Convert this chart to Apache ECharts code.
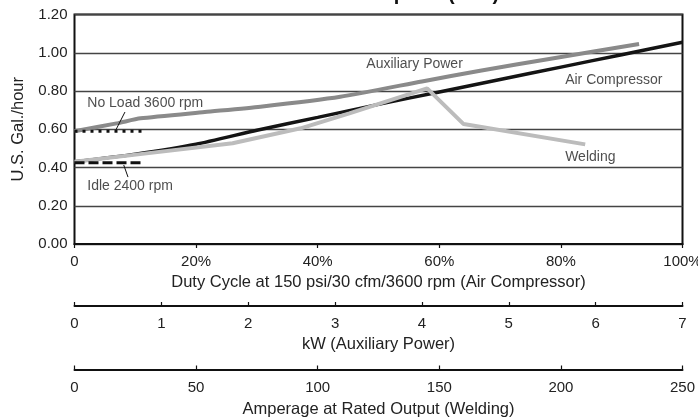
<!DOCTYPE html>
<html>
<head>
<meta charset="utf-8">
<script src="https://cdn.jsdelivr.net/npm/echarts@6/dist/echarts.min.js"></script>
<style>
html,body{margin:0;padding:0;background:#fff;}
#chart{width:698px;height:419px;}
</style>
</head>
<body>
<div id="chart"></div>
<script>
// ---- data ----
const titleText = 'Fuel Consumption (Gas)';
const yTicks = [0, 0.2, 0.4, 0.6, 0.8, 1.0, 1.2];
// Air Compressor: [duty cycle %, gal/hr]
const airCompressor = [[0,0.43],[10,0.47],[20,0.522],[30,0.595],[40,0.662],[50,0.73],[60,0.795],[70,0.86],[80,0.925],[90,0.99],[100,1.055]];
// Auxiliary Power: [kW, gal/hr]
const auxiliaryPower = [[0,0.59],[0.5,0.632],[0.76,0.657],[1.5,0.69],[2.14,0.718],[3.06,0.77],[4,0.85],[4.67,0.906],[5.5,0.97],[6.5,1.046]];
// Welding: [amps, gal/hr]
const welding = [[0,0.43],[27,0.47],[65,0.527],[93,0.605],[113,0.683],[145,0.814],[160,0.627],[210,0.521]];
// No load / idle reference lines: [duty %, gal/hr]
const noLoad3600 = [[0,0.59],[11.7,0.59]];
const idle2400 = [[0,0.425],[11.5,0.425]];
// leader lines
const noLoadLeader = [[8.3,0.69],[6.7,0.59]];
const idleLeader = [[8.1,0.413],[8.8,0.35]];
// text labels: [duty %, gal/hr, text]
const annotations = [
  [2.1,0.737,'No Load 3600 rpm'],
  [2.1,0.303,'Idle 2400 rpm'],
  [48,0.941,'Auxiliary Power'],
  [80.7,0.857,'Air Compressor'],
  [80.7,0.455,'Welding']
];
const xNames = ['Duty Cycle at 150 psi/30 cfm/3600 rpm (Air Compressor)','kW (Auxiliary Power)','Amperage at Rated Output (Welding)'];
const yName = 'U.S. Gal./hour';

// ---- chart ----
const FONT = "'Liberation Sans', Arial, sans-serif";
const TXT = '#222';
const chart = echarts.init(document.getElementById('chart'), null, {renderer:'canvas'});

function bottomAxis(min, max, interval, name, offset, tickInside, fmt, nameGap, labelMargin){
  return {
    type:'value', position:'bottom', offset:offset, min:min, max:max, interval:interval,
    name:name, nameLocation:'middle', nameGap:nameGap,
    nameTextStyle:{fontFamily:FONT, fontSize:16.5, color:TXT},
    axisLine:{show:true, onZero:false, lineStyle:{color:'#111', width:2}},
    axisTick:{show:true, inside:tickInside, length:4, lineStyle:{color:'#111', width:1.2}},
    axisLabel:{fontFamily:FONT, fontSize:15, color:TXT, margin:labelMargin, formatter:fmt, showMaxLabel:true, showMinLabel:true},
    splitLine:{show:false}
  };
}

chart.setOption({
  animation:false,
  backgroundColor:'#fff',
  title:{text:titleText, left:262, top:-21, textStyle:{fontFamily:FONT, fontSize:20, fontWeight:'bold', color:'#111'}},
  grid:{left:74.5, right:15.5, top:14.5, bottom:175, containLabel:false, outerBoundsMode:'none',
        show:true, borderColor:'#111', borderWidth:2, backgroundColor:'transparent'},
  xAxis:[
    bottomAxis(0,100,20,xNames[0],0,false,v=> v===0?'0':v+'%',29,10),
    bottomAxis(0,7,1,xNames[1],62,true,v=>String(v),30,10),
    bottomAxis(0,250,50,xNames[2],125.5,true,v=>String(v),31,11)
  ],
  yAxis:{
    type:'value', min:yTicks[0], max:yTicks[yTicks.length-1], interval:0.2,
    name:yName, nameLocation:'middle', nameGap:48, nameRotate:90,
    nameTextStyle:{fontFamily:FONT, fontSize:16.5, color:TXT},
    axisLine:{show:false}, axisTick:{show:false},
    axisLabel:{fontFamily:FONT, fontSize:15, color:TXT, margin:7, formatter:v=>v.toFixed(2)},
    splitLine:{show:true, lineStyle:{color:'#444', width:1.3}}
  },
  series:[
    {type:'line', name:'Air Compressor', xAxisIndex:0, data:airCompressor, symbol:'none', smooth:0.2,
     lineStyle:{color:'#141414', width:3.5}, z:3},
    {type:'line', name:'Welding', xAxisIndex:2, data:welding, symbol:'none',
     lineStyle:{color:'#bcbcbc', width:4}, z:4},
    {type:'line', name:'Auxiliary Power', xAxisIndex:1, data:auxiliaryPower, symbol:'none', smooth:0.2,
     lineStyle:{color:'#8a8a8a', width:4}, z:5},
    {type:'line', name:'No Load 3600 rpm', xAxisIndex:0, data:noLoad3600, symbol:'none',
     lineStyle:{color:'#111', width:3, type:[3,5]}, z:6},
    {type:'line', name:'Idle 2400 rpm', xAxisIndex:0, data:idle2400, symbol:'none',
     lineStyle:{color:'#111', width:3, type:[10,4]}, z:6},
    {type:'line', xAxisIndex:0, data:noLoadLeader, symbol:'none', lineStyle:{color:'#111', width:1}, z:6},
    {type:'line', xAxisIndex:0, data:idleLeader, symbol:'none', lineStyle:{color:'#111', width:1}, z:6},
    {type:'scatter', xAxisIndex:0, data:annotations, symbolSize:0, z:7,
     label:{show:true, position:'right', distance:0, fontFamily:FONT, fontSize:14, color:TXT,
            formatter:p=>p.data[2]}}
  ]
});
</script>
</body>
</html>
